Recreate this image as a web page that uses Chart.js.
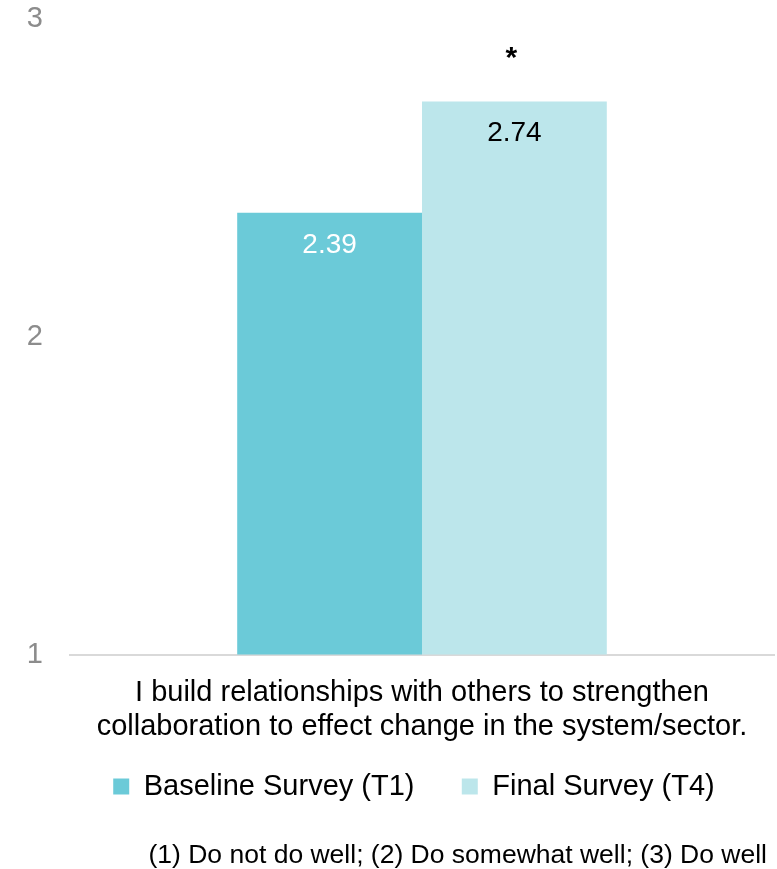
<!DOCTYPE html>
<html>
<head>
<meta charset="utf-8">
<script src="https://cdn.jsdelivr.net/npm/chart.js@4"></script>
<style>
  html, body { margin: 0; padding: 0; background: #fff; }
  #wrap { width: 777px; height: 869px; }
</style>
</head>
<body>
<div id="wrap"><canvas id="chart"></canvas></div>
<script>
const categories = [['I build relationships with others to strengthen', 'collaboration to effect change in the system/sector.']]
const seriesNames = ['Baseline Survey (T1)', 'Final Survey (T4)']
const baseline = [2.39]
const final = [2.74]
const significant = [true]
const yTicks = [1, 2, 3]
const scaleNote = '(1) Do not do well; (2) Do somewhat well; (3) Do well'

const FONT = "'Liberation Sans', Arial, sans-serif"
const NBSP = '\u00a0'

// values written inside the top of each bar, plus the significance star
const barLabels = {
	id: 'barLabels',
	afterDatasetsDraw(chart) {
		const ctx = chart.ctx
		ctx.save()
		ctx.textAlign = 'center'
		ctx.textBaseline = 'middle'
		chart.data.datasets.forEach((ds, di) => {
			const meta = chart.getDatasetMeta(di)
			meta.data.forEach((bar, i) => {
				ctx.font = '28px ' + FONT
				ctx.fillStyle = di === 0 ? '#ffffff' : '#000000'
				ctx.fillText(ds.data[i].toFixed(2), bar.x, bar.y + 32)
				if (di === 1 && significant[i]) {
					ctx.fillStyle = '#000000'
					ctx.font = 'bold 30px ' + FONT
					ctx.fillText('*', bar.x - 3, bar.y - 43)
				}
			})
		})
		ctx.restore()
	},
}

// scale key under the legend
const footNote = {
	id: 'footNote',
	afterDraw(chart) {
		const ctx = chart.ctx
		ctx.save()
		ctx.font = '26.5px ' + FONT
		ctx.fillStyle = '#000'
		ctx.textAlign = 'right'
		ctx.textBaseline = 'middle'
		ctx.fillText(scaleNote, chart.width - 10, chart.height - 13)
		ctx.restore()
	},
}

new Chart(document.getElementById('chart'), {
	type: 'bar',
	data: {
		labels: categories,
		datasets: [
			{ label: seriesNames[0], data: baseline, backgroundColor: '#6bcad8' },
			{ label: seriesNames[1], data: final, backgroundColor: '#bce6eb' },
		],
	},
	options: {
		responsive: true,
		maintainAspectRatio: false,
		animation: false,
		datasets: { bar: { barPercentage: 1, categoryPercentage: 0.525 } },
		layout: { padding: { top: 0, right: 3, left: 27, bottom: 58 } },
		scales: {
			x: {
				grid: { display: false, drawTicks: false },
				border: { display: true, color: '#d9d9d9', width: 2 },
				ticks: { color: '#000', font: { family: FONT, size: 29, lineHeight: 1.18 }, padding: 21 },
				afterFit: (scale) => {
					scale.paddingLeft = 0
					scale.paddingRight = 0
				},
			},
			y: {
				min: yTicks[0],
				max: yTicks[yTicks.length - 1],
				afterBuildTicks: (axis) => { axis.ticks = yTicks.map((v) => ({ value: v })) },
				grid: { display: false, drawTicks: false },
				border: { display: false },
				ticks: { color: '#8c8c8c', font: { family: FONT, size: 29 }, padding: 27 },
				afterFit: (scale) => {
					scale.width = 43
					scale.paddingTop = 19
					scale.paddingBottom = 0
				},
			},
		},
		plugins: {
			legend: {
				position: 'bottom',
				fullSize: false,
				labels: {
					color: '#000',
					font: { family: FONT, size: 29 },
					boxWidth: 16,
					boxHeight: 16,
					padding: 7,
					// wider gap between the two entries
					generateLabels: (chart) => {
						const items = Chart.defaults.plugins.legend.labels.generateLabels(chart)
						items[0].text += NBSP.repeat(5)
						items[1].text += NBSP.repeat(2)
						return items
					},
				},
			},
			title: { display: false },
			tooltip: { enabled: false },
		},
	},
	plugins: [barLabels, footNote],
})
</script>
</body>
</html>
